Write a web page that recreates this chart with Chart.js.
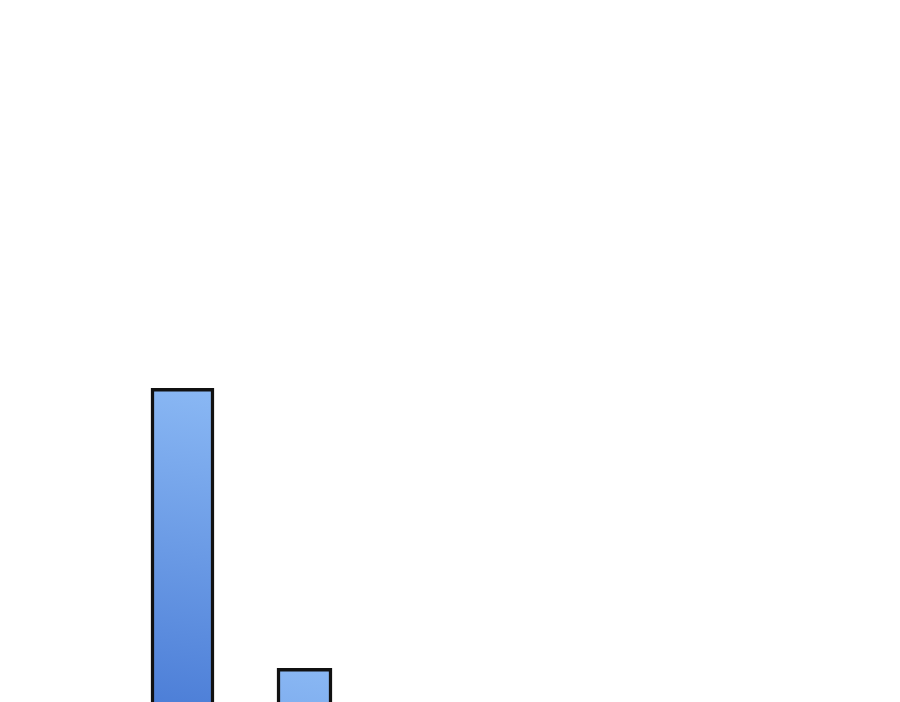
<!DOCTYPE html>
<html>
<head>
<meta charset="utf-8">
<script src="https://cdn.jsdelivr.net/npm/chart.js@4"></script>
<style>
  html, body { margin: 0; padding: 0; background: #ffffff; overflow: hidden; }
  #wrap { width: 900px; height: 702px; }
</style>
</head>
<body>
<div id="wrap"><canvas id="chart"></canvas></div>
<script>
// categories and values (only the two visible bars)
const categories = ["1", "2"];
const tallBar = [44.7, null];
const shortBar = [null, 4.8];

// per-bar gradient: light at the top, darker going down
function barGradient(ctx) {
    const chart = ctx.chart;
    const area = chart.chartArea;
    if (!area || ctx.raw == null) return "#6f9fe8";
    const y = chart.scales.y.getPixelForValue(ctx.raw);
    const x = chart.scales.x.getPixelForValue(ctx.dataIndex);
    const g = chart.ctx.createLinearGradient(x + 30, y, x - 30, y + 330);
    g.addColorStop(0, "#8ab8f4");
    g.addColorStop(1, "#4a7cd6");
    return g;
}

new Chart(document.getElementById("chart"), {
    type: "bar",
    data: {
        labels: categories,
        datasets: [
            {
                data: tallBar,
                backgroundColor: barGradient,
                borderColor: "#111111",
                borderWidth: 3.5,
                barThickness: 63,
                borderSkipped: "start",
                grouped: false
            },
            {
                data: shortBar,
                backgroundColor: barGradient,
                borderColor: "#111111",
                borderWidth: 3.5,
                barThickness: 55,
                borderSkipped: "start",
                grouped: false
            }
        ]
    },
    options: {
        responsive: true,
        maintainAspectRatio: false,
        animation: false,
        layout: { padding: { left: 121.5, right: 534.5, top: 0, bottom: 0 } },
        plugins: { legend: { display: false }, tooltip: { enabled: false } },
        scales: {
            x: { display: false },
            y: { display: false, min: 0, max: 100 }
        }
    }
});
</script>
</body>
</html>
